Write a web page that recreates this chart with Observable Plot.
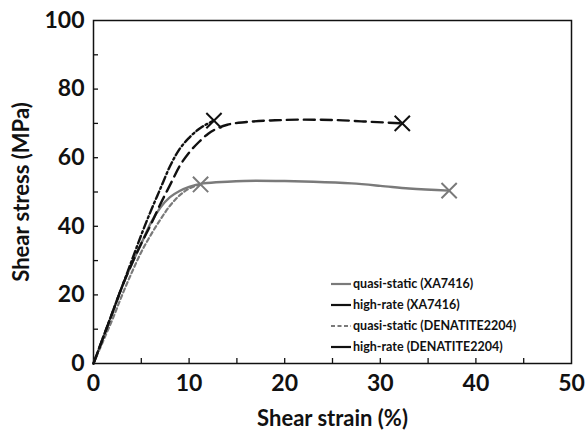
<!DOCTYPE html>
<html>
<head>
<meta charset="utf-8">
<script src="https://cdn.jsdelivr.net/npm/d3@7"></script>
<script src="https://cdn.jsdelivr.net/npm/@observablehq/plot@0.6"></script>
<style>
  html, body { margin: 0; padding: 0; background: #fff; }
  #wrap { position: relative; width: 588px; height: 435px; }
  #legend { position: absolute; left: 331px; top: 273px; font-family: Lato, sans-serif; font-weight: bold; font-size: 12.5px; color: #111; }
  #legend .row { display: flex; align-items: center; height: 21px; }
  #legend svg { margin-right: 1px; }
</style>
</head>
<body>
<div id="wrap"></div>
<script>
// Series: [shear strain %, shear stress MPa]
const qsXA = [[0,0],[1,7.5],[2,15],[3,22.5],[4,29],[5,35],[6,41],[7,45.5],[8,48.5],[9,50.3],[10,51.5],[11.5,52.5],[14,53],[17,53.3],[20,53.2],[23,53],[27,52.5],[30,51.8],[33,51],[37.2,50.4]];
const hrXA = [[0,0],[1,7.5],[2,15],[3,22.5],[4,29],[5,35],[6,40.5],[7,46.5],[8,52],[9,57.5],[10,61.5],[11,64.5],[12,67],[13,68.6],[14,69.6],[16,70.4],[19,70.9],[22,71.1],[25,71],[28,70.6],[32.3,70]];
const qsDEN = [[0,0],[1,6.5],[2,13],[3,20],[4,26.5],[5,32.5],[6,37.5],[7,42],[8,46],[9,49],[10,51],[11.2,52.2]];
const hrDEN = [[0,0],[1,7.5],[2,15],[3,22.5],[4,30],[5,37.5],[6,44.5],[7,51],[8,57.5],[9,62.5],[10,65.8],[11,68.3],[12,70],[12.6,70.8]];
// Failure points (X markers)
const failX = [37.2, 32.3, 11.2, 12.6];
const failY = [50.4, 70.0, 52.2, 70.8];
const failColor = ["#7a7a7a", "#111", "#7a7a7a", "#111"];

const seriesNames = ["quasi-static (XA7416)", "high-rate (XA7416)", "quasi-static (DENATITE2204)", "high-rate (DENATITE2204)"];
const xTicksMajor = [0, 10, 20, 30, 40, 50];
const xTicksMinor = [5, 10, 15, 20, 25, 30, 35, 40, 45];
const yTicksMajor = [0, 20, 40, 60, 80, 100];
const yTicksMinor = [10, 20, 30, 40, 50, 60, 70, 80, 90];

const gray = "#7a7a7a";
const W = 588, H = 435, mL = 93, mR = 17, mT = 20, mB = 72;
const pw = W - mL - mR, ph = H - mT - mB;
const font = "Lato, sans-serif";

const failPts = failX.map((x, i) => ({x, y: failY[i], c: failColor[i]}));

const chart = Plot.plot({
  width: W, height: H,
  marginLeft: mL, marginRight: mR, marginTop: mT, marginBottom: mB,
  style: {fontFamily: font, fontWeight: "bold", color: "#111", background: "#fff"},
  x: {domain: [0, 50]},
  y: {domain: [0, 100]},
  marks: [
    Plot.frame({stroke: "#111", strokeWidth: 1.5}),
    Plot.axisX(xTicksMajor, {tickSize: 0, tickPadding: 11, fontSize: 23, label: "Shear strain (%)", labelAnchor: "center", labelArrow: "none", labelOffset: 62}),
    Plot.axisY(yTicksMajor, {tickSize: 0, tickPadding: 9, fontSize: 23, label: "Shear stress (MPa)", labelAnchor: "center", labelArrow: "none", labelOffset: 80}),
    Plot.tickX(xTicksMinor, {x: d => d, insetTop: ph - 5, stroke: "#111", strokeWidth: 1.3}),
    Plot.tickY(yTicksMinor, {y: d => d, insetRight: pw - 5, stroke: "#111", strokeWidth: 1.3}),
    Plot.line(qsDEN, {x: d => d[0], y: d => d[1], stroke: gray, strokeWidth: 2.2, strokeDasharray: "4,3", curve: "monotone-x"}),
    Plot.line(qsXA, {x: d => d[0], y: d => d[1], stroke: gray, strokeWidth: 2.4, curve: "monotone-x"}),
    Plot.line(hrXA, {x: d => d[0], y: d => d[1], stroke: "#111", strokeWidth: 2.4, strokeDasharray: "11,6", curve: "monotone-x"}),
    Plot.line(hrDEN, {x: d => d[0], y: d => d[1], stroke: "#111", strokeWidth: 2.4, strokeDasharray: "8,3,2,3", curve: "monotone-x"}),
    Plot.dot(failPts, {x: "x", y: "y", symbol: "times", r: 7, stroke: "c", strokeWidth: 2})
  ]
});
const wrap = document.getElementById("wrap");
wrap.appendChild(chart);
chart.querySelectorAll("g[aria-label='x-axis label'] text, g[aria-label='y-axis label'] text").forEach(t => t.style.fontSize = "22px");

// Legend
const legendStyles = [
  {stroke: gray, dash: null},
  {stroke: "#111", dash: null},
  {stroke: gray, dash: "4,2.5"},
  {stroke: "#111", dash: null}
];
const leg = document.createElement("div");
leg.id = "legend";
seriesNames.forEach((name, i) => {
  const row = document.createElement("div");
  row.className = "row";
  const s = legendStyles[i];
  row.innerHTML = `<svg width="21" height="6"><line x1="0" y1="3" x2="20" y2="3" stroke="${s.stroke}" stroke-width="2.2" ${s.dash ? `stroke-dasharray="${s.dash}"` : ""}/></svg><span>${name}</span>`;
  leg.appendChild(row);
});
wrap.appendChild(leg);
</script>
</body>
</html>
